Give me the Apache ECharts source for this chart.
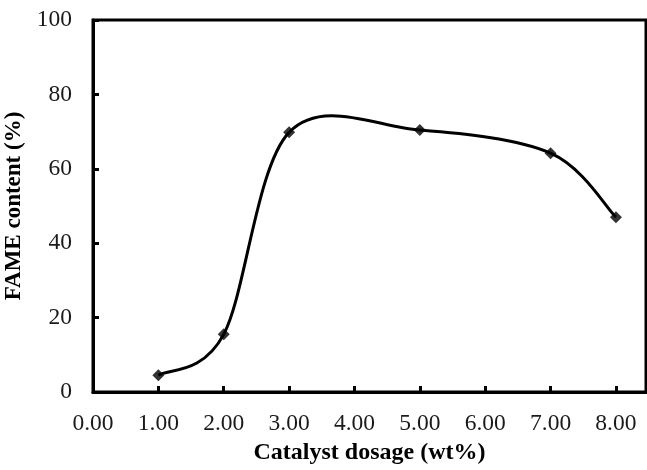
<!DOCTYPE html>
<html>
<head>
<meta charset="utf-8">
<script src="https://cdn.jsdelivr.net/npm/echarts@6/dist/echarts.min.js"></script>
<style>
  html, body { margin: 0; padding: 0; background: #fff; }
  #chart { width: 647px; height: 470px; }
</style>
</head>
<body>
<div id="chart"></div>
<script>
// catalyst dosage (wt%) and FAME content (%)
var dosage = [1, 2, 3, 5, 7, 8];
var fame = [4.5, 15.5, 69.8, 70.4, 64.2, 47];

var font = "'Liberation Serif', 'Times New Roman', serif";
var points = dosage.map(function (d, i) { return [d, fame[i]]; });

// spreadsheet-style smoothed line: one cubic segment between neighbours
function renderSegment(params, api) {
  var i = params.dataIndex;
  var n = points.length;
  if (i >= n - 1) return null;
  var p0 = api.coord(points[Math.max(i - 1, 0)]);
  var p1 = api.coord(points[i]);
  var p2 = api.coord(points[i + 1]);
  var p3 = api.coord(points[Math.min(i + 2, n - 1)]);
  return {
    type: "bezierCurve",
    shape: {
      x1: p1[0], y1: p1[1],
      x2: p2[0], y2: p2[1],
      cpx1: p1[0] + (p2[0] - p0[0]) / 6,
      cpy1: p1[1] + (p2[1] - p0[1]) / 6,
      cpx2: p2[0] - (p3[0] - p1[0]) / 6,
      cpy2: p2[1] - (p3[1] - p1[1]) / 6
    },
    style: { stroke: "#000", lineWidth: 3, fill: null }
  };
}

var myChart = echarts.init(document.getElementById("chart"));
var option = {
  animation: false,
  grid: {
    left: 93,
    right: 1,
    top: 20,
    bottom: 78,
    outerBoundsMode: "none",
    containLabel: false,
    show: true,
    borderColor: "#000",
    borderWidth: 3
  },
  xAxis: {
    type: "value",
    min: 0,
    max: 8.46,
    interval: 1,
    name: "Catalyst dosage (wt%)",
    nameLocation: "middle",
    nameGap: 49,
    nameTextStyle: {
      fontFamily: font,
      fontWeight: "bold",
      fontSize: 24,
      color: "#000"
    },
    axisLine: { lineStyle: { color: "#000", width: 3 } },
    axisTick: { inside: true, length: 6, lineStyle: { color: "#000", width: 3 } },
    axisLabel: {
      showMaxLabel: false,
      margin: 20,
      fontFamily: font,
      fontSize: 23.5,
      color: "#1a1a1a",
      formatter: function (v) {
        return Number.isInteger(v) ? v.toFixed(2) : "";
      }
    },
    splitLine: { show: false }
  },
  yAxis: {
    type: "value",
    min: 0,
    max: 100,
    interval: 20,
    name: "FAME content (%)",
    nameLocation: "middle",
    nameGap: 55,
    nameTextStyle: {
      fontFamily: font,
      fontWeight: "bold",
      fontSize: 23,
      color: "#000"
    },
    axisLine: { lineStyle: { color: "#000", width: 3 } },
    axisTick: { inside: true, length: 6, lineStyle: { color: "#000", width: 3 } },
    axisLabel: {
      margin: 21,
      fontFamily: font,
      fontSize: 23.5,
      color: "#1a1a1a"
    },
    splitLine: { show: false }
  },
  series: [
    {
      type: "custom",
      renderItem: renderSegment,
      encode: { x: 0, y: 1 },
      data: points,
      z: 2
    },
    {
      type: "scatter",
      data: points,
      symbol: "diamond",
      symbolSize: 12,
      itemStyle: { color: "#000" },
      z: 3
    }
  ]
};
myChart.setOption(option);
</script>
</body>
</html>
